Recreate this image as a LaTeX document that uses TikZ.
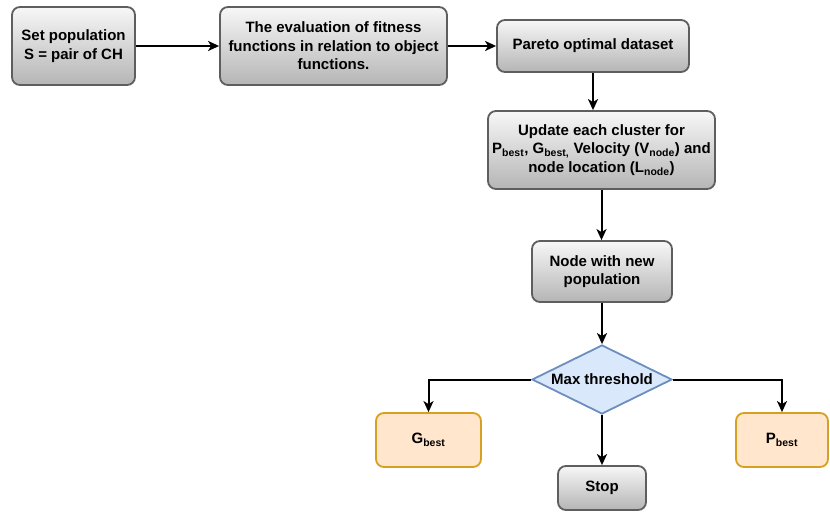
\documentclass[tikz,border=0pt]{standalone}
\usepackage{fontspec}
\setmainfont{Liberation Sans}
\usetikzlibrary{shapes.geometric,arrows.meta}
\definecolor{grtop}{HTML}{F7F7F7}
\definecolor{grbot}{HTML}{B5B5B5}
\definecolor{grline}{HTML}{5E5E5E}
\definecolor{orfill}{HTML}{FFE6CC}
\definecolor{orline}{HTML}{D8A020}
\definecolor{blfill}{HTML}{DAE8FC}
\definecolor{blline}{HTML}{6C8EBF}
\begin{document}
\begin{tikzpicture}[x=1bp,y=-1bp,
  every node/.style={font=\bfseries\fontsize{15bp}{18.5bp}\selectfont, align=center, inner sep=0pt},
  graybox/.style={rectangle, rounded corners=8bp, draw=grline, line width=1.8bp, top color=grtop, bottom color=grbot},
  orbox/.style={rectangle, rounded corners=8bp, draw=orline, fill=orfill, line width=1.8bp},
  decis/.style={diamond, draw=blline, fill=blfill, line width=1.8bp, shape aspect=2},
  arr/.style={-{Stealth[length=11bp,width=10bp,inset=3bp]}, line width=2bp, black}
]
\useasboundingbox (0,0) rectangle (830,513);
\node[graybox, minimum width=123bp, minimum height=78bp] (b1) at (73.5,46) {Set population\\S = pair of CH};
\node[graybox, minimum width=227bp, minimum height=78bp] (b2) at (333.5,46) {The evaluation of fitness\\functions in relation to object\\functions.};
\node[graybox, minimum width=192bp, minimum height=52bp] (b3) at (593,46) {Pareto optimal dataset};
\node[graybox, minimum width=227bp, minimum height=78bp] (upd) at (601.5,150) {Update each cluster for\\P\textsubscript{best}, G\textsubscript{best,} Velocity (V\textsubscript{node}) and\\node location (L\textsubscript{node})};
\node[graybox, minimum width=140bp, minimum height=61bp] (nwp) at (602,271.5) {Node with new\\population};
\node[decis, minimum width=140bp, minimum height=69bp] (dia) at (602,379.5) {Max threshold};
\node[orbox, minimum width=105bp, minimum height=54bp] (gb) at (428.5,440) {G\textsubscript{best}};
\node[orbox, minimum width=92bp, minimum height=54bp] (pb) at (782,440) {P\textsubscript{best}};
\node[graybox, minimum width=88bp, minimum height=44bp] (stop) at (602,488) {Stop};
\draw[arr] (b1.east) -- (b2.west);
\draw[arr] (b2.east) -- (b3.west);
\draw[arr] (b3.south) -- (b3.south |- upd.north);
\draw[arr] (upd.south) -- (upd.south |- nwp.north);
\draw[arr] (nwp.south) -- (nwp.south |- dia.north);
\draw[arr] (dia.south) -- (stop.north);
\draw[arr] (dia.west) -| (gb.north);
\draw[arr] (dia.east) -| (pb.north);
\end{tikzpicture}
\end{document}
